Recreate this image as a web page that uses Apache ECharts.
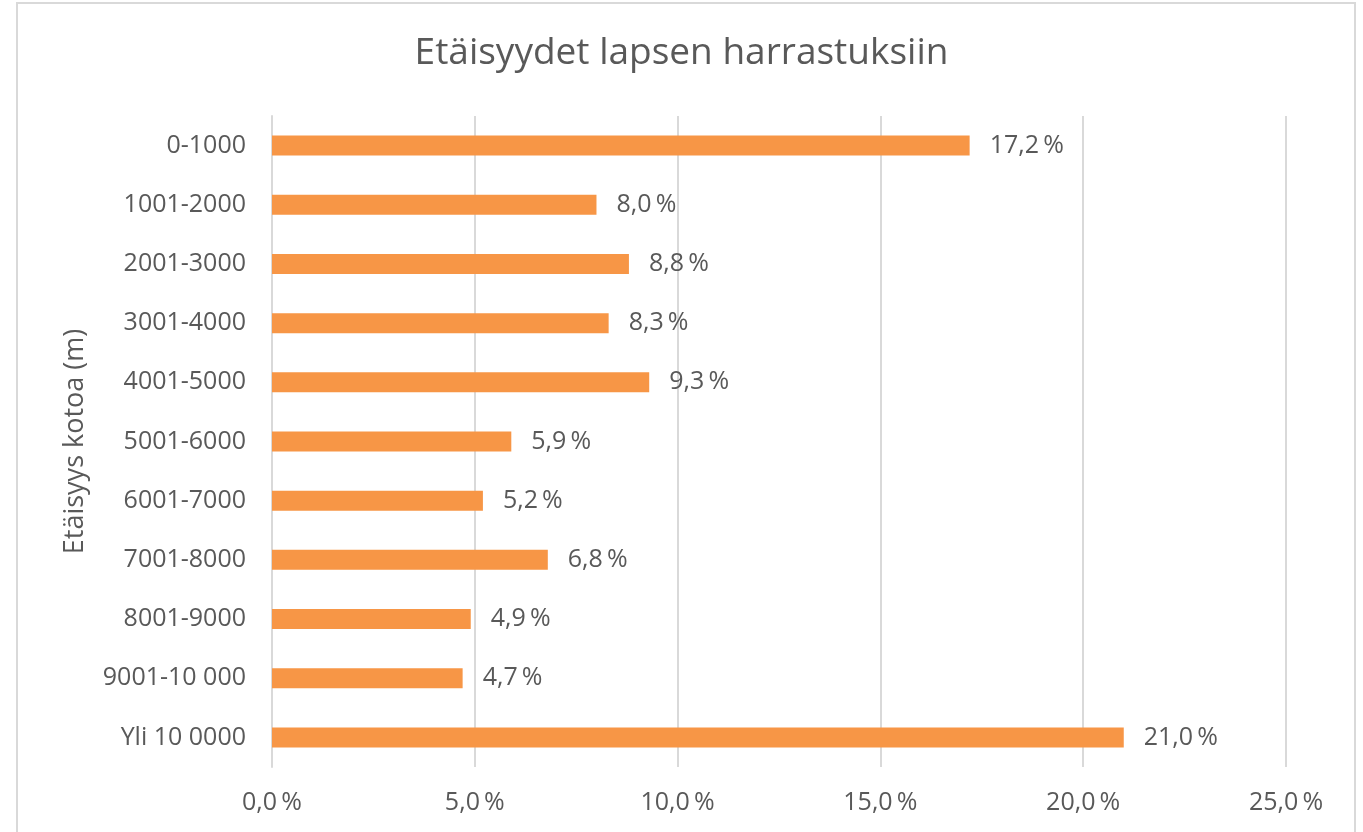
<!DOCTYPE html>
<html><head><meta charset="utf-8">
<script src="https://cdn.jsdelivr.net/npm/echarts@6/dist/echarts.min.js"></script>
<style>html,body{margin:0;padding:0;background:#fff;}#c{width:1363px;height:832px;}</style>
</head><body><div id="c"></div>
<script>
const categories = ["0-1000","1001-2000","2001-3000","3001-4000","4001-5000","5001-6000","6001-7000","7001-8000","8001-9000","9001-10 000","Yli 10 0000"];
const values = [17.2, 8.0, 8.8, 8.3, 9.3, 5.9, 5.2, 6.8, 4.9, 4.7, 21.0];
const titleText = "Etäisyydet lapsen harrastuksiin";
const yAxisName = "Etäisyys kotoa (m)";
const fmt = v => v.toFixed(1).replace('.', ',') + '\u2009%';
const FONT = "'Open Sans', 'Liberation Sans', sans-serif";
const chart = echarts.init(document.getElementById('c'), null, {renderer:'canvas'});
chart.setOption({
  animation:false,
  textStyle:{fontFamily:FONT},
  graphic:[{type:'rect', shape:{x:17, y:3, width:1338, height:900}, style:{fill:'none', stroke:'#d9d9d9', lineWidth:2}, silent:true}],
  title:{text:titleText, left:'center', top:30, textStyle:{fontFamily:FONT, fontSize:37, fontWeight:'normal', color:'#595959'}},
  grid:{left:272, right:77, top:116, bottom:65, containLabel:false},
  xAxis:{type:'value', min:0, max:25, interval:5,
    axisLine:{show:false}, axisTick:{show:false},
    splitLine:{show:true, lineStyle:{color:'#d9d9d9', width:2}},
    axisLabel:{formatter:fmt, fontSize:25, color:'#595959', margin:23, fontFamily:FONT}},
  yAxis:{type:'category', data:categories, inverse:true,
    axisLine:{show:true, lineStyle:{color:'#d9d9d9', width:2}}, axisTick:{show:false},
    axisLabel:{fontSize:25, color:'#595959', margin:26, fontFamily:FONT},
    name:yAxisName, nameLocation:'middle', nameGap:183, nameRotate:90,
    nameTextStyle:{fontSize:27, color:'#595959', fontFamily:FONT}},
  series:[{type:'bar', data:values, barWidth:20, itemStyle:{color:'#f79646'},
    label:{show:true, position:'right', distance:20, formatter:p=>fmt(p.value), fontSize:25, color:'#595959', fontFamily:FONT}}]
});
</script></body></html>
